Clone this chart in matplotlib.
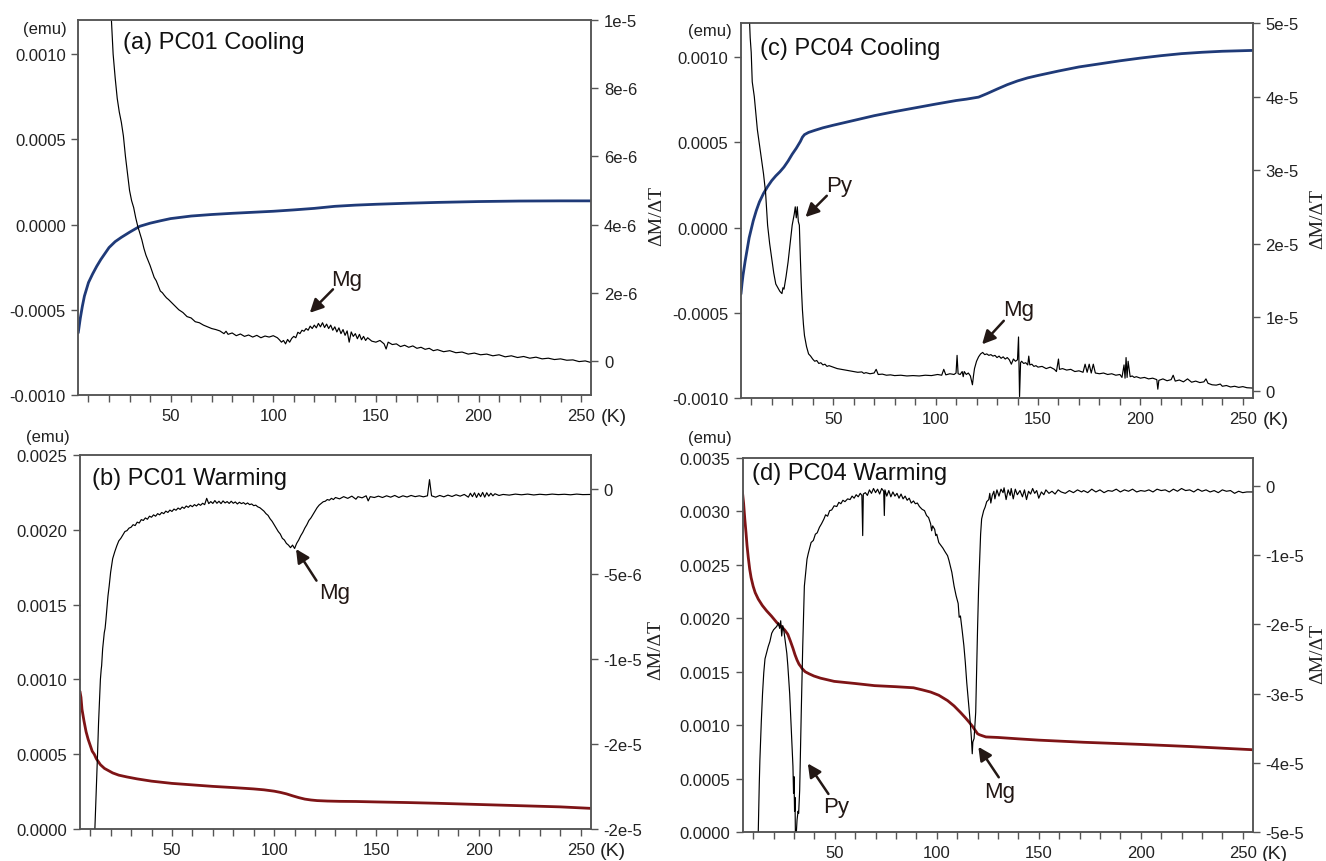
import matplotlib
matplotlib.use("Agg")
import matplotlib.pyplot as plt
from matplotlib.ticker import MultipleLocator, FixedLocator, FixedFormatter, FormatStrFormatter

plt.rcParams['font.family'] = ['Liberation Sans', 'DejaVu Sans']
plt.rcParams['axes.unicode_minus'] = False

BLUE = '#1f3a78'
RED = '#7e1416'
NOTE = '#231815'
SPINE = '#555555'

# ---------------- (a) PC01 cooling ----------------
a_m_t = [5, 6, 7, 8, 9, 10, 12, 14, 16, 18, 20, 23, 26, 30, 35, 40, 45, 50, 60, 70, 80, 90,
         100, 110, 120, 130, 140, 150, 165, 180, 200, 220, 240, 255]
a_m = [-0.000635, -0.00055, -0.00048, -0.00042, -0.00038, -0.00034, -0.00029, -0.000245,
       -0.000205, -0.00017, -0.000135, -0.0001, -0.000075, -0.000045, -0.00001, 0.000008,
       0.000022, 0.000035, 0.00005, 0.000059, 0.000066, 0.000072, 0.000078, 0.000086,
       0.000095, 0.000107, 0.000114, 0.000119, 0.000125, 0.00013, 0.000135, 0.000138,
       0.000139, 0.000139]
# dM/dT in units of 1e-6
a_d_t = [20, 21, 22, 23, 24, 25, 26, 27, 28, 29, 30, 31, 32, 33, 34, 35, 36, 37, 38, 39, 40,
         41, 42, 43, 44, 45, 46, 47, 48, 49, 50, 52, 54, 56, 58, 60, 62, 64, 66, 68, 70, 72,
         74, 76, 77, 78, 80, 82, 84, 86, 88, 90, 92, 94, 96, 98, 100, 102, 103, 104, 105, 106,
         107, 108, 109, 110, 111, 112, 113, 114, 115, 116, 117, 118, 119, 120, 121, 122, 123,
         124, 125, 126, 127, 128, 129, 130, 131, 132, 133, 134, 135, 136, 137, 138, 139, 140,
         141, 142, 143, 144, 145, 146, 148, 150, 152, 154, 155, 156, 158, 160, 162, 164, 166,
         168, 170, 172, 174, 176, 178, 180, 183, 186, 189, 192, 195, 198, 201, 204, 207, 210,
         213, 216, 219, 222, 225, 228, 231, 234, 237, 240, 243, 246, 249, 252, 255]
a_d = [11.0, 10.2, 9.0, 8.3, 7.7, 7.3, 7.0, 6.6, 6.0, 5.5, 5.0, 4.7, 4.5, 4.2, 3.95, 3.75, 3.55,
       3.3, 3.1, 2.95, 2.8, 2.62, 2.45, 2.35, 2.2, 2.05, 2.0, 1.92, 1.85, 1.8, 1.74, 1.62, 1.5,
       1.42, 1.3, 1.26, 1.15, 1.12, 1.05, 1.0, 0.95, 0.92, 0.88, 0.8, 0.87, 0.78, 0.82, 0.74,
       0.79, 0.72, 0.76, 0.7, 0.75, 0.68, 0.73, 0.7, 0.74, 0.68, 0.62, 0.55, 0.6, 0.5, 0.63,
       0.55, 0.66, 0.72, 0.68, 0.84, 0.8, 0.9, 0.87, 0.95, 0.9, 1.02, 0.95, 1.05, 0.97, 1.1,
       1.0, 1.12, 0.98, 1.08, 0.95, 1.05, 0.9, 1.0, 0.85, 0.97, 0.8, 0.92, 0.75, 0.88, 0.55,
       0.85, 0.72, 0.8, 0.65, 0.78, 0.62, 0.72, 0.6, 0.68, 0.58, 0.55, 0.6, 0.5, 0.35, 0.55,
       0.48, 0.5, 0.42, 0.46, 0.4, 0.44, 0.37, 0.4, 0.34, 0.37, 0.3, 0.33, 0.27, 0.3, 0.24,
       0.26, 0.2, 0.23, 0.18, 0.2, 0.15, 0.18, 0.12, 0.15, 0.1, 0.13, 0.08, 0.11, 0.06, 0.08,
       0.04, 0.06, 0.02, 0.03, -0.02, 0.0, -0.05]

# ---------------- (b) PC01 warming ----------------
b_m_t = [5, 5.5, 6, 7, 8, 9, 10, 11, 12, 13, 14, 15, 17, 19, 21, 24, 28, 33, 40, 50, 60, 70,
         80, 90, 95, 100, 103, 106, 109, 112, 115, 118, 121, 126, 132, 140, 150, 165, 180,
         200, 220, 240, 255]
b_m = [0.00092, 0.00088, 0.0008, 0.00072, 0.00065, 0.0006, 0.00056, 0.00052, 0.0005, 0.00047,
       0.00045, 0.00043, 0.000405, 0.00039, 0.000375, 0.00036, 0.000348, 0.000335, 0.00032,
       0.000305, 0.000295, 0.000285, 0.000277, 0.000268, 0.000262, 0.000253, 0.000245,
       0.000235, 0.000222, 0.00021, 0.0002, 0.000194, 0.00019, 0.000187, 0.000185, 0.000184,
       0.000181, 0.000177, 0.000172, 0.000164, 0.000156, 0.000148, 0.000138]
b_d_t = [12.0, 12.3, 12.8, 13.2, 13.6, 14.1, 14.5, 15.0, 15.4, 15.6, 16.1, 16.5, 16.9, 17.3,
         17.7, 18.2, 18.7, 19.3, 20, 21, 22, 23, 24, 25, 26, 27, 28, 29, 30, 31, 32, 33, 34,
         35, 36, 37, 38, 39, 40, 41, 42, 43, 44, 45, 46, 47, 48, 49, 50, 51, 52, 53, 54, 55,
         56, 57, 58, 59, 60, 61, 62, 63, 64, 65, 66, 67, 68, 69, 70, 71, 72, 73, 74, 75, 76,
         77, 78, 79, 80, 81, 82, 83, 84, 85, 86, 87, 88, 89, 90, 91, 92, 93, 94, 95, 96, 97,
         98, 99, 100, 101, 102, 103, 104, 105, 106, 107, 108, 109, 110, 111, 112, 113, 114,
         115, 116, 117, 118, 119, 120, 121, 122, 123, 124, 125, 126, 127, 128, 129, 130, 132,
         134, 136, 138, 140, 141, 143, 145, 146, 147, 149, 151, 153, 155, 157, 159, 161, 163,
         165, 167, 169, 171, 173, 175, 176, 177, 179, 181, 183, 185, 187, 189, 191, 193, 195,
         196, 197, 198, 199, 200, 201, 202, 203, 204, 205, 206, 207, 208, 210, 212, 215, 218,
         221, 224, 227, 230, 233, 236, 239, 242, 245, 248, 251, 255]
b_d = [-21.0, -20.0, -18.5, -17.0, -15.6, -13.75, -12.6, -11.2, -10.6, -10.4, -9.4, -8.9,
       -8.45, -8.2, -7.7, -7.0, -6.3, -5.7, -4.9, -4.1, -3.7, -3.35, -3.05, -2.9, -2.7, -2.5,
       -2.45, -2.3, -2.25, -2.1, -2.15, -1.95, -2.0, -1.8, -1.85, -1.7, -1.78, -1.6, -1.66,
       -1.52, -1.6, -1.45, -1.52, -1.38, -1.45, -1.3, -1.38, -1.24, -1.32, -1.18, -1.25,
       -1.12, -1.2, -1.06, -1.14, -1.0, -1.08, -0.96, -1.04, -0.92, -1.0, -0.88, -0.96,
       -0.84, -0.92, -0.55, -0.86, -0.74, -0.85, -0.68, -0.84, -0.72, -0.86, -0.7, -0.82,
       -0.74, -0.85, -0.72, -0.84, -0.76, -0.88, -0.78, -0.86, -0.8, -0.9, -0.82, -0.92,
       -0.88, -0.98, -0.95, -1.05, -1.1, -1.2, -1.3, -1.45, -1.55, -1.75, -1.9, -2.1, -2.3,
       -2.5, -2.65, -2.9, -3.0, -3.2, -3.3, -3.45, -3.3, -3.5, -3.2, -3.0, -2.75, -2.55,
       -2.3, -2.1, -1.85, -1.7, -1.5, -1.3, -1.1, -0.95, -0.85, -0.75, -0.72, -0.62, -0.66,
       -0.55, -0.62, -0.5, -0.58, -0.45, -0.55, -0.42, -0.6, -0.45, -0.52, -0.4, -0.7, -0.45,
       -0.5, -0.42, -0.5, -0.4, -0.48, -0.38, -0.5, -0.4, -0.47, -0.38, -0.45, -0.4, -0.46,
       -0.4, 0.55, -0.4, -0.48, -0.38, -0.46, -0.36, -0.44, -0.34, -0.42, -0.32, -0.48,
       -0.25, -0.45, -0.22, -0.5, -0.25, -0.45, -0.2, -0.48, -0.22, -0.42, -0.25, -0.4,
       -0.28, -0.38, -0.32, -0.36, -0.3, -0.34, -0.3, -0.35, -0.31, -0.34, -0.3, -0.33,
       -0.31, -0.34, -0.3, -0.33, -0.32]

# ---------------- (c) PC04 cooling ----------------
c_m_t = [5, 5.5, 6, 7, 8, 9, 10, 11, 12.5, 14, 16, 18, 20, 22, 24, 26, 28, 30, 32, 34, 35, 36,
         38, 41, 45, 50, 60, 70, 80, 90, 100, 110, 115, 121, 125, 130, 135, 140, 145, 150, 160,
         170, 180, 190, 200, 210, 220, 230, 240, 255]
c_m = [-0.00039, -0.00033, -0.00028, -0.0002, -0.00013, -0.00006, -0.00001, 0.00004, 0.0001,
       0.00015, 0.0002, 0.00024, 0.000275, 0.000303, 0.000327, 0.000355, 0.00039, 0.00043,
       0.000465, 0.000505, 0.00053, 0.000545, 0.000558, 0.00057, 0.000585, 0.0006, 0.000628,
       0.000656, 0.00068, 0.000702, 0.000724, 0.000745, 0.000753, 0.000765, 0.000785,
       0.000812, 0.000838, 0.00086, 0.000878, 0.000892, 0.000918, 0.000942, 0.00096,
       0.000978, 0.000994, 0.001008, 0.00102, 0.001028, 0.001034, 0.001039]
c_d_t = [8.5, 9.5, 10, 10.5, 11, 11.5, 12, 13, 14, 15, 16, 17, 18, 19, 20, 21, 22, 23, 24, 25,
         25.5, 26, 27, 28, 29, 30, 31, 31.5, 32, 32.5, 33, 33.5, 34, 34.5, 35, 35.5, 36, 37,
         38, 39, 40, 41, 42, 43, 44, 45, 46, 47, 48, 50, 52, 54, 56, 58, 60, 62, 64, 65, 66,
         68, 70, 71, 72, 74, 76, 78, 80, 83, 86, 89, 92, 95, 98, 101, 103, 104, 105, 107, 109,
         110, 110.5, 111, 112, 113, 113.5, 114, 115, 116, 117, 118, 118.5, 119, 120, 121, 122,
         123, 124, 125, 126, 127, 128, 129, 130, 131, 132, 133, 134, 135, 136, 137, 138, 139,
         140, 140.5, 141, 141.5, 142, 143, 144, 145, 145.5, 146, 147, 148, 149, 150, 152, 154,
         156, 158, 159, 160, 160.5, 162, 164, 166, 168, 170, 172, 173, 174, 175, 176, 177, 178,
         180, 182, 184, 186, 188, 190, 191, 192, 192.5, 193, 193.5, 194, 195, 196, 197, 198,
         200, 202, 204, 206, 208, 208.5, 209, 211, 213, 215, 216, 217, 219, 221, 223, 225,
         227, 229, 231, 232, 233, 235, 237, 239, 240, 242, 244, 246, 248, 250, 252, 255]
c_d = [55, 48, 46, 42, 41, 40, 38.5, 35.5, 33.5, 31.5, 29.5, 27, 22.5, 20, 18, 16, 14.5, 14,
       13.5, 13.2, 14, 13.8, 15.5, 17.5, 20, 22.5, 24, 25, 23.5, 25, 23, 22.5, 18, 14, 11, 9,
       7.5, 6, 5, 4.7, 4.3, 4.0, 4.1, 3.7, 3.8, 3.5, 3.6, 3.3, 3.4, 3.2, 3.0, 2.9, 2.8, 2.7,
       2.6, 2.5, 2.55, 2.35, 2.45, 2.3, 2.4, 2.9, 2.2, 2.25, 2.1, 2.15, 2.05, 2.1, 2.0, 2.05,
       2.0, 2.1, 2.05, 2.2, 2.1, 2.9, 2.15, 2.3, 2.2, 2.4, 4.8, 2.3, 2.2, 2.6, 1.9, 2.6, 2.2,
       2.4, 2.0, 0.8, 2.0, 3.0, 4.0, 4.6, 5.0, 5.2, 4.9, 5.0, 4.8, 4.9, 4.7, 4.8, 4.5, 4.7,
       4.4, 4.6, 4.3, 4.5, 4.2, 3.6, 4.3, 4.0, 4.2, 7.3, -0.8, 3.8, 4.0, 3.7, 3.8, 3.5, 4.7,
       3.5, 3.6, 3.3, 3.4, 3.2, 3.3, 3.0, 3.2, 2.9, 2.6, 4.3, 2.9, 3.0, 2.8, 2.9, 2.6, 2.7,
       2.5, 3.6, 2.5, 3.6, 2.4, 3.6, 2.4, 2.3, 2.4, 2.2, 2.3, 2.1, 2.2, 1.8, 3.5, 1.7, 4.5,
       1.8, 4.0, 1.9, 2.0, 1.8, 1.9, 1.7, 1.8, 1.6, 1.7, 1.5, 0.2, 1.4, 1.6, 1.35, 1.5, 2.1,
       1.3, 1.45, 1.2, 1.6, 1.15, 1.3, 1.1, 1.2, 1.6, 1.0, 0.8, 0.75, 0.9, 0.6, 0.7, 0.5,
       0.6, 0.45, 0.55, 0.4, 0.35]

# ---------------- (d) PC04 warming ----------------
d_m_t = [4.7, 5.3, 5.9, 6.5, 7, 7.6, 8.3, 9, 10, 11, 12.5, 14.5, 16.6, 19, 21.6, 24, 25.5, 27,
         28.2, 29.5, 30.5, 31.5, 32.5, 33.3, 34, 35.5, 37.5, 39.8, 43, 49.7, 60, 69.5, 80, 88.6,
         93, 97, 101, 105.3, 108.5, 111.6, 114, 115.8, 117.5, 118.9, 120, 121, 122.5, 124.1,
         130, 140, 150, 172, 200, 224.3, 255]
d_m = [0.00319, 0.00308, 0.00293, 0.0028, 0.00268, 0.00257, 0.00246, 0.00238, 0.0023,
       0.00224, 0.00218, 0.00212, 0.00207, 0.00202, 0.00196, 0.00192, 0.00189, 0.00185,
       0.00179, 0.00172, 0.00166, 0.00161, 0.00157, 0.00155, 0.00153, 0.0015, 0.00148,
       0.00146, 0.00144, 0.00141, 0.00139, 0.00137, 0.00136, 0.00135, 0.00133, 0.00131,
       0.00128, 0.00123, 0.00118, 0.00112, 0.00107, 0.00103, 0.00099, 0.00095, 0.00092,
       0.00091, 0.0009, 0.00089, 0.000885, 0.000872, 0.00086, 0.00084, 0.00082, 0.0008,
       0.00077]
d_d_t = [12, 12.5, 13, 13.3, 14, 14.6, 15.2, 15.8, 16.5, 17.4, 18.2, 19.1, 20, 21, 21.6, 22.3,
         23, 23.5, 24, 24.5, 25, 26, 26.5, 27, 27.9, 28.5, 29, 29.5, 29.8, 30, 30.3, 30.5,
         30.7, 31, 31.5, 32, 32.3, 32.8, 33.1, 33.6, 34.3, 35.1, 36.4, 37, 38.4, 39.5, 40.5,
         41.4, 42.5, 43.5, 44.7, 45.5, 46.5, 47.5, 48.5, 49.7, 51, 52, 53, 54, 55, 56.3, 57.5,
         58.5, 59.5, 60.5, 61.5, 62.5, 63.3, 63.7, 64, 65, 66, 67, 68, 69, 70, 71, 72, 73, 74,
         74.3, 74.6, 75.5, 76.5, 77.5, 78.5, 79.5, 80.5, 81.5, 82.5, 83.5, 84.5, 85.5, 86.5,
         87.5, 88.6, 89.5, 90.5, 91.5, 92.8, 94, 95, 96, 97, 97.5, 98, 99, 99.5, 100, 101, 102,
         103, 104, 105.3, 106, 107.4, 108.5, 109.5, 110.5, 111, 111.6, 112.5, 113.3, 114,
         114.7, 115.5, 116.4, 117, 117.4, 117.7, 118.3, 118.7, 119.1, 119.6, 120, 120.5, 121,
         121.5, 122, 123, 123.7, 124.5, 125.5, 126, 126.5, 127.2, 128, 128.5, 129.5, 130.5,
         131.5, 132.5, 133, 134, 135, 136, 136.5, 137.5, 138.5, 139.5, 140.8, 142, 143, 144,
         145, 146, 147, 148, 149, 150, 151.3, 152.5, 153.5, 155, 156.5, 158, 159.5, 161, 163,
         165, 167, 169, 171, 172, 174, 176, 178, 180, 182, 184, 186, 188, 190, 192, 194, 196,
         198, 200, 202, 204, 206, 208, 210, 212, 214, 216, 218, 220, 222, 224, 226, 228, 230,
         232, 234, 236, 238, 240, 242, 244, 246, 248, 250, 252, 255]
d_d = [-52, -50, -43, -39.6, -34, -30, -27, -25, -24.2, -23.2, -22.5, -21.3, -20.8, -20.5,
       -20.3, -19.8, -20.6, -19.5, -21.7, -20.2, -20.8, -23.0, -24.2, -26, -30, -34, -37.2,
       -40.5, -44.4, -42, -47, -45, -50, -51, -48.3, -47, -47.3, -44, -39.6, -32.4, -23.2,
       -14.5, -10.6, -9.8, -8.2, -7.9, -7.0, -6.8, -6.0, -5.5, -4.8, -4.2, -4.4, -3.6, -3.5,
       -2.9, -3.0, -2.4, -2.6, -2.1, -2.3, -1.9, -2.0, -1.5, -1.8, -1.3, -1.6, -1.1, -1.4,
       -7.2, -1.2, -1.0, -1.4, -0.6, -1.1, -0.4, -1.0, -0.5, -1.2, -0.4, -0.8, -4.3, -0.6,
       -1.5, -0.7, -1.6, -0.9, -1.5, -1.1, -1.8, -1.2, -1.9, -1.5, -2.1, -1.8, -2.5, -2.2,
       -2.6, -2.5, -3.0, -3.4, -3.6, -4.3, -4.6, -5.5, -6.5, -5.8, -6.3, -7.2, -7.0, -8.2,
       -8.6, -9.0, -9.5, -10.1, -10.8, -12.5, -14.5, -15.9, -17.0, -19.0, -18.8, -21.0,
       -23.1, -25.5, -28.4, -31.0, -34.1, -36.5, -38.7, -37.0, -36.5, -34.5, -32.7, -26,
       -20.7, -15, -11, -7, -4.8, -3.6, -3.1, -2.3, -2.0, -1.1, -2.5, -1.4, -0.8, -1.9, -0.6,
       -1.5, -0.5, -1.0, -0.3, -2.0, -0.6, -1.4, -0.4, -1.9, -0.5, -1.3, -0.7, -1.6, -0.6,
       -2.0, -0.8, -1.2, -0.4, -1.1, -0.7, -1.8, -0.9, -1.3, -0.6, -1.1, -0.8, -1.2, -0.6,
       -0.9, -1.1, -0.7, -1.0, -0.6, -0.9, -0.7, -1.0, -0.5, -0.9, -0.6, -1.0, -0.7, -0.8,
       -0.5, -0.9, -0.6, -0.8, -0.5, -0.9, -0.7, -0.8, -0.6, -0.9, -0.5, -0.7, -0.6, -0.9,
       -0.5, -0.8, -0.4, -0.7, -0.6, -0.9, -0.5, -0.8, -0.6, -0.9, -0.7, -1.0, -0.6, -0.8,
       -0.7, -1.1, -0.8, -1.0, -0.9, -0.9]

# axis ticks
cool_left_ticks = [-0.001, -0.0005, 0.0, 0.0005, 0.001]
a_right_ticks = [0, 2e-6, 4e-6, 6e-6, 8e-6, 1e-5]
a_right_labels = ['0', '2e-6', '4e-6', '6e-6', '8e-6', '1e-5']
b_left_ticks = [0.0, 0.0005, 0.001, 0.0015, 0.002, 0.0025]
b_right_ticks = [0, -5e-6, -1e-5, -1.5e-5, -2e-5]
b_right_labels = ['0', '-5e-6', '-1e-5', '-2e-5', '-2e-5']
c_right_ticks = [0, 1e-5, 2e-5, 3e-5, 4e-5, 5e-5]
c_right_labels = ['0', '1e-5', '2e-5', '3e-5', '4e-5', '5e-5']
d_left_ticks = [0.0, 0.0005, 0.001, 0.0015, 0.002, 0.0025, 0.003, 0.0035]
d_right_ticks = [0, -1e-5, -2e-5, -3e-5, -4e-5, -5e-5]
d_right_labels = ['0', '-1e-5', '-2e-5', '-3e-5', '-4e-5', '-5e-5']


def panel(fig, rect, title, title_pos, emu_pos, emu_va,
          mt, m, mcolor, dt, d, left_lim, left_ticks,
          right_lim, right_ticks, right_labels, notes):
    ax = fig.add_axes(rect)
    ax2 = ax.twinx()

    ax.plot(mt, m, color=mcolor, lw=2.0, solid_capstyle='round')
    ax2.plot(dt, [v * 1e-6 for v in d], color='black', lw=0.85)

    ax.set_xlim(5, 255)
    ax.set_ylim(*left_lim)
    ax2.set_ylim(*right_lim)

    ax.xaxis.set_major_locator(MultipleLocator(50))
    ax.xaxis.set_minor_locator(MultipleLocator(10))
    ax.yaxis.set_major_locator(FixedLocator(left_ticks))
    ax.yaxis.set_major_formatter(FormatStrFormatter('%.4f'))
    ax2.yaxis.set_major_locator(FixedLocator(right_ticks))
    ax2.yaxis.set_major_formatter(FixedFormatter(right_labels))

    for a in (ax, ax2):
        for s in a.spines.values():
            s.set_color(SPINE)
            s.set_linewidth(1.1)
        a.tick_params(which='both', direction='out', length=5, width=1.0,
                      color=SPINE, labelsize=12, labelcolor='#222222', pad=4)

    ax.text(title_pos[0], title_pos[1], title, transform=ax.transAxes,
            ha='left', va='top', fontsize=17, color='#111111')
    ax.text(emu_pos[0], emu_pos[1], '(emu)', transform=ax.transAxes,
            ha='right', va=emu_va, fontsize=12, color='#222222')
    ax.text(1.018, -0.058, '(K)', transform=ax.transAxes,
            ha='left', va='center', fontsize=14, color='#222222')
    ax2.text(1.127, 0.48, '\u0394M/\u0394T', transform=ax2.transAxes, rotation=90,
             ha='center', va='center', fontsize=14, color='#222222',
             family=['Liberation Serif', 'DejaVu Serif'])

    for label, txt_xy, tail, tip in notes:
        ax2.annotate('', xy=tip, xytext=tail,
                     arrowprops=dict(arrowstyle='-|>,head_length=0.8,head_width=0.4',
                                     color=NOTE, lw=1.8, shrinkA=0, shrinkB=0))
        ax2.text(txt_xy[0], txt_xy[1], label, ha='center', va='center',
                 fontsize=16, color=NOTE)
    return ax, ax2


fig = plt.figure(figsize=(13.26, 8.62), dpi=100)

panel(fig, [0.0590, 0.5406, 0.3870, 0.4350], '(a) PC01 Cooling', (0.088, 0.972),
      (-0.022, 0.998), 'top',
      a_m_t, a_m, BLUE, a_d_t, a_d, (-0.001, 0.0012), cool_left_ticks,
      (-1e-6, 1e-5), a_right_ticks, a_right_labels,
      [('Mg', (135.8, 2.39e-6), (129.1, 2.1e-6), (117.8, 1.41e-6))])

panel(fig, [0.0603, 0.0371, 0.3854, 0.4339], '(b) PC01 Warming', (0.023, 0.968),
      (-0.02, 1.03), 'bottom',
      b_m_t, b_m, RED, b_d_t, b_d, (0.0, 0.0025), b_left_ticks,
      (-2e-5, 2e-6), b_right_ticks, b_right_labels,
      [('Mg', (129.8, -6.08e-6), (120.7, -5.39e-6), (110.7, -3.53e-6))])

panel(fig, [0.5588, 0.5371, 0.3862, 0.4351], '(c) PC04 Cooling', (0.037, 0.963),
      (-0.018, 1.0), 'top',
      c_m_t, c_m, BLUE, c_d_t, c_d, (-0.001, 0.0012), cool_left_ticks,
      (-1e-6, 5e-5), c_right_ticks, c_right_labels,
      [('Py', (52.9, 2.79e-5), (46.9, 2.65e-5), (36.5, 2.36e-5)),
       ('Mg', (140.4, 1.1e-5), (133.3, 0.95e-5), (122.7, 0.63e-5))])

panel(fig, [0.5603, 0.0336, 0.3846, 0.4339], '(d) PC04 Warming', (0.018, 0.989),
      (-0.022, 1.035), 'bottom',
      d_m_t, d_m, RED, d_d_t, d_d, (0.0, 0.0035), d_left_ticks,
      (-5e-5, 4e-6), d_right_ticks, d_right_labels,
      [('Py', (50.8, -4.63e-5), (46.9, -4.45e-5), (36.8, -4.01e-5)),
       ('Mg', (130.6, -4.41e-5), (130.4, -4.21e-5), (120.4, -3.77e-5))])

fig.savefig('out.png', dpi=100)
